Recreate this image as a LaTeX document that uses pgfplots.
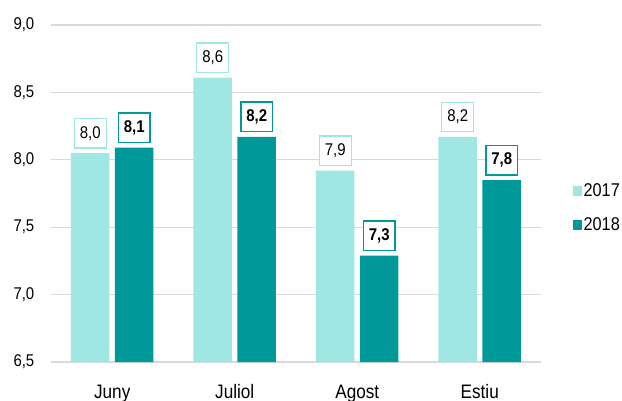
\documentclass[border=0pt]{standalone}
\usepackage{fontspec}
\setmainfont{Liberation Sans}[FakeStretch=0.88]
\usepackage{pgfplots}
\pgfplotsset{compat=1.18}
\definecolor{c17}{HTML}{9EE7E3}
\definecolor{c18}{HTML}{009999}
\definecolor{gridgray}{HTML}{D9D9D9}

\begin{document}
\begin{tikzpicture}
\path[use as bounding box] (0,0) rectangle (622pt,400pt);
\begin{axis}[
  at={(51pt,38pt)}, anchor=south west,
  scale only axis, width=490pt, height=337pt,
  xmin=-0.5, xmax=3.5, ymin=6.5, ymax=9,
  ybar=5.5pt, bar width=38.5pt,
  xtick={0,1,2,3}, xticklabels={Juny,Juliol,Agost,Estiu},
  ytick={6.5,7,7.5,8,8.5,9},
  /pgf/number format/use comma,
  /pgf/number format/fixed,
  /pgf/number format/fixed zerofill,
  /pgf/number format/precision=1,
  /pgf/number format/assume math mode=true,
  major tick length=0pt,
  axis x line*=bottom, axis y line*=left,
  x axis line style={draw=gridgray, line width=1.2pt, -},
  y axis line style={draw=none},
  ymajorgrids, grid style={draw=gridgray, line width=1.1pt},
  yticklabel style={font=\fontsize{17}{20}\selectfont, anchor=east, inner sep=0pt, xshift=-16.5pt},
  xticklabel style={font=\fontsize{19.5}{23}\selectfont, anchor=north, inner sep=0pt, yshift=-22.5pt},
  point meta=explicit symbolic,
  nodes near coords,
  every node near coord/.append style={font=\fontsize{17}{20}\selectfont, fill=white, inner xsep=5.5pt, inner ysep=0pt, minimum height=29.5pt, anchor=south, yshift=4.5pt},
  legend style={at={(1.058,0.457)}, anchor=west, draw=none, fill=none, font=\fontsize{18.5}{22}\selectfont, row sep=16pt, cells={anchor=west}},
  legend image code/.code={\fill[#1] (-4pt,-5pt) rectangle (5pt,5pt);},
]
\addplot[fill=c17, draw=none, every node near coord/.append style={draw=c17, line width=1.2pt}]
  coordinates {(0,8.05) [8,0] (1,8.61) [8,6] (2,7.92) [7,9] (3,8.17) [8,2]};
\addplot[fill=c18, draw=none, every node near coord/.append style={draw=c18, line width=1.5pt, font=\fontsize{17}{20}\selectfont\bfseries}]
  coordinates {(0,8.09) [8,1] (1,8.17) [8,2] (2,7.29) [7,3] (3,7.85) [7,8]};
\legend{2017,2018}
\end{axis}
\end{tikzpicture}
\end{document}
